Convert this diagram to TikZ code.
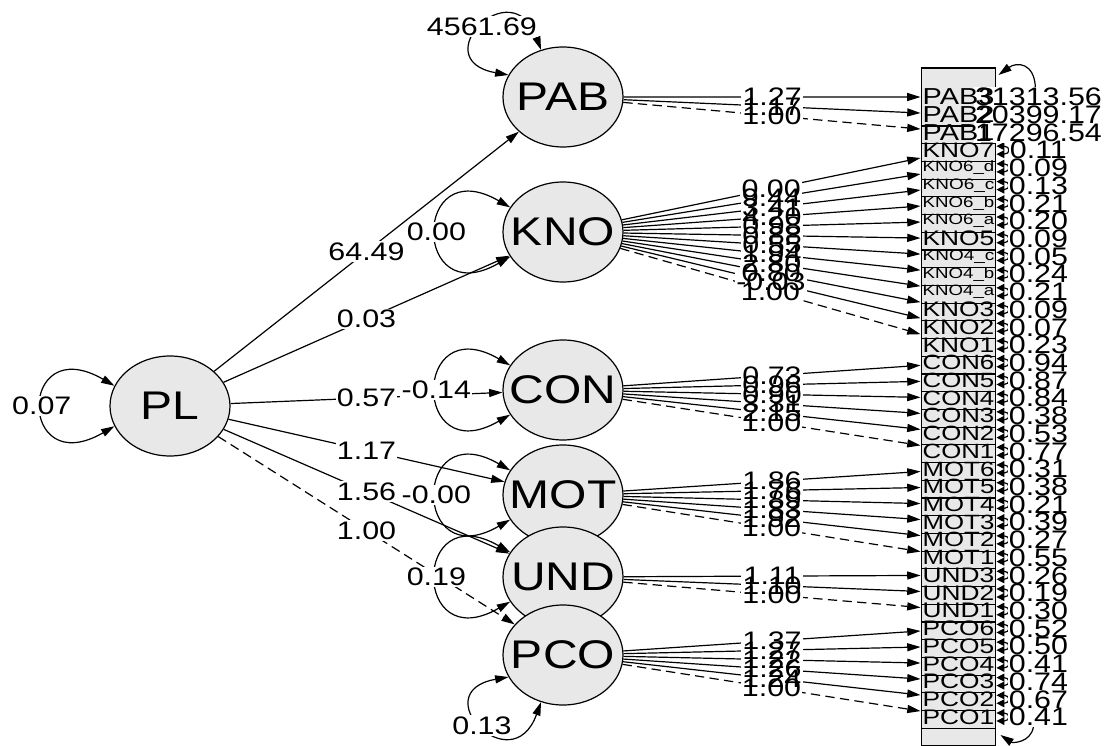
\documentclass[tikz,border=0pt]{standalone}
\usepackage{fontspec}
\setmainfont{Liberation Sans}
\usepackage{graphicx}
\usetikzlibrary{arrows.meta,shapes.geometric,calc}

\definecolor{nodegray}{gray}{0.91}

% text sizes of the path diagram
\newcommand{\numtxt}[1]{\scalebox{1.2}[1]{\fontsize{19}{19}\selectfont #1}}
\newcommand{\lattxt}[1]{\makebox[0pt]{\scalebox{1.2}[1]{\fontsize{30}{30}\selectfont #1}}}
\newcommand{\mantxt}[1]{\scalebox{1.25}[1]{\resizebox{43pt}{!}{#1}}}

% paths: from/to/estimate/style
\newcommand{\pathList}{PL/PAB/64.49/solid, PL/KNO/0.03/solid, PL/CON/0.57/solid, PL/MOT/1.17/solid, PL/UND/1.56/solid, PL/PCO/1.00/fixedpath,
  PAB/PAB3/1.27/solid, PAB/PAB2/1.17/solid, PAB/PAB1/1.00/fixedpath,
  KNO/KNO7/0.00/solid, KNO/KNO6d/9.44/solid, KNO/KNO6c/3.41/solid, KNO/KNO6b/4.20/solid, KNO/KNO6a/0.98/solid, KNO/KNO5/0.88/solid,
  KNO/KNO4c/0.55/solid, KNO/KNO4b/1.94/solid, KNO/KNO4a/2.80/solid, KNO/KNO3/0.80/solid, KNO/KNO2/-0.03/solid, KNO/KNO1/1.00/fixedpath,
  CON/CON6/0.73/solid, CON/CON5/0.96/solid, CON/CON4/0.90/solid, CON/CON3/3.31/solid, CON/CON2/2.15/solid, CON/CON1/1.00/fixedpath,
  MOT/MOT6/1.86/solid, MOT/MOT5/1.76/solid, MOT/MOT4/1.89/solid, MOT/MOT3/1.83/solid, MOT/MOT2/1.92/solid, MOT/MOT1/1.00/fixedpath,
  UND/UND3/1.11/solid, UND/UND2/1.10/solid, UND/UND1/1.00/fixedpath,
  PCO/PCO6/1.37/solid, PCO/PCO5/1.27/solid, PCO/PCO4/1.22/solid, PCO/PCO3/1.26/solid, PCO/PCO2/1.24/solid, PCO/PCO1/1.00/fixedpath}
% indicators, bottom to top: name/text/residual
\newcommand{\indicatorList}{PCO1/PCO1/0.41, PCO2/PCO2/0.67, PCO3/PCO3/0.74, PCO4/PCO4/0.41, PCO5/PCO5/0.50, PCO6/PCO6/0.52,
  UND1/UND1/0.30, UND2/UND2/0.19, UND3/UND3/0.26,
  MOT1/MOT1/0.55, MOT2/MOT2/0.27, MOT3/MOT3/0.39, MOT4/MOT4/0.21, MOT5/MOT5/0.38, MOT6/MOT6/0.31,
  CON1/CON1/0.77, CON2/CON2/0.53, CON3/CON3/0.38, CON4/CON4/0.84, CON5/CON5/0.87, CON6/CON6/0.94,
  KNO1/KNO1/0.23, KNO2/KNO2/0.07, KNO3/KNO3/0.09, KNO4a/KNO4\_a/0.21, KNO4b/KNO4\_b/0.24, KNO4c/KNO4\_c/0.05, KNO5/KNO5/0.09,
  KNO6a/KNO6\_a/0.20, KNO6b/KNO6\_b/0.21, KNO6c/KNO6\_c/0.13, KNO6d/KNO6\_d/0.09, KNO7/KNO7/0.11,
  PAB1/PAB1/17296.54, PAB2/PAB2/20399.17, PAB3/PAB3/31313.56}
% variances: node/start/end/out/in/looseness/estimate
\newcommand{\varianceList}{PL/160/200/150/210/7.1/0.07, PAB/115/158/110/170/5.35/4561.69,
  KNO/155/205/150/210/5.9/0.00, CON/155/205/150/210/5.9/-0.14, MOT/155/205/150/210/5.9/-0.00,
  UND/155/205/150/210/5.9/0.19, PCO/245/202/250/190/5.35/0.13}

\begin{document}
\begin{tikzpicture}[x=0.75pt,y=0.75pt,
    latent/.style={ellipse,draw,fill=nodegray,line width=0.9pt,minimum width=90pt,minimum height=75pt,inner sep=0pt},
    manifest/.style={rectangle,draw,fill=nodegray,line width=0.9pt,minimum width=56pt,minimum height=43.5pt,inner sep=0pt},
    loading/.style={line width=0.9pt,-{Triangle[length=10pt,width=6pt]}},
    twoway/.style={line width=0.9pt,{Triangle[length=10pt,width=6pt]}-{Triangle[length=10pt,width=6pt]}},
    resid/.style={line width=0.9pt,{Triangle[length=6pt,width=6pt]}-{Triangle[length=6pt,width=6pt]}},
    fixedpath/.style={dash pattern=on 7pt off 4pt},
    lblbg/.style={fill=white,inner sep=1pt},
    lbl/.style={inner sep=1pt}
]
\useasboundingbox (0,0) rectangle (1104,-746);

% observed variables, drawn upwards so the lower edges stay visible
\foreach \nm/\tx/\rv [count=\k] in \indicatorList {
    \pgfmathsetmacro{\yy}{17.714*(\k-1)-717}
    \node[manifest] (\nm) at (958.5,\yy) {};
}

% latent variables
\node[latent] (PL) at (170,-406) {\lattxt{PL}};
\node[latent] (PAB) at (563,-97) {\lattxt{PAB}};
\node[latent] (KNO) at (563,-232) {\lattxt{KNO}};
\node[latent] (CON) at (563,-390) {\lattxt{CON}};
\node[latent] (MOT) at (563,-495) {\lattxt{MOT}};
\node[latent] (UND) at (563,-577) {\lattxt{UND}};
\node[latent] (PCO) at (563,-655) {\lattxt{PCO}};

% edges and loops
\foreach \src/\dst/\est/\sty in \pathList {
    \draw[loading,\sty] (\src) -- (\dst);
}
\foreach \nm/\sa/\ea/\ou/\inn/\lo/\est in \varianceList {
    \draw[twoway] (\nm.\sa) to[out=\ou,in=\inn,looseness=\lo] (\nm.\ea);
}
\foreach \nm/\tx/\rv in \indicatorList {
    \draw[resid] ($(\nm.east)+(0,4)$) to[out=0,in=0,looseness=4.5] ($(\nm.east)+(0,-4)$);
}
\draw[loading] ($(PAB3.east)+(39,9)$) .. controls ($(PAB3.east)+(38,35)$) and ($(PAB3.east)+(20,35)$) .. ($(PAB3.east)+(2,22)$);
\draw[loading] ($(PCO1.east)+(37,-10)$) .. controls ($(PCO1.east)+(34,-26)$) and ($(PCO1.east)+(16,-26)$) .. ($(PCO1.east)+(4,-18)$);

% label backgrounds
\foreach \src/\dst/\est/\sty in \pathList {
    \path (\src) -- node[lblbg] (bg\src\dst) {\phantom{\numtxt{\est}}} (\dst);
}
\foreach \nm/\sa/\ea/\ou/\inn/\lo/\est in \varianceList {
    \path (\nm.\sa) to[out=\ou,in=\inn,looseness=\lo] node[lblbg] (bgv\nm) {\phantom{\numtxt{\est}}} (\nm.\ea);
}
\foreach \nm/\tx/\rv in \indicatorList {
    \node[lblbg] (bgr\nm) at ($(\nm.east)+(42,0)$) {\phantom{\numtxt{\rv}}};
}

% label texts
\foreach \nm/\tx/\rv in \indicatorList {
    \node (t\nm) at (\nm) {\mantxt{\tx}};
    \node[lbl] (r\nm) at ($(\nm.east)+(42,0)$) {\numtxt{\rv}};
}
\foreach \src/\dst/\est/\sty in \pathList {
    \path (\src) -- node[lbl] (l\src\dst) {\numtxt{\est}} (\dst);
}
\foreach \nm/\sa/\ea/\ou/\inn/\lo/\est in \varianceList {
    \path (\nm.\sa) to[out=\ou,in=\inn,looseness=\lo] node[lbl] (v\nm) {\numtxt{\est}} (\nm.\ea);
}
\end{tikzpicture}
\end{document}
